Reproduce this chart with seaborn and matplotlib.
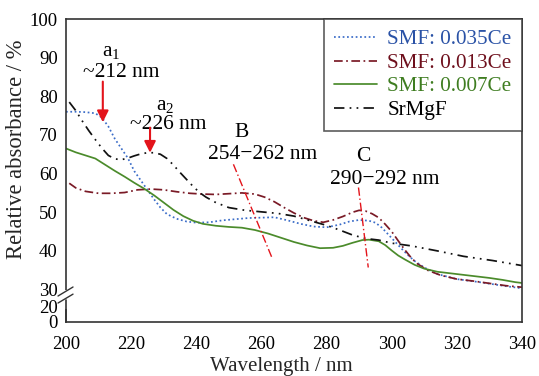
import numpy as np
import pandas as pd
import seaborn as sns
import matplotlib.pyplot as plt
from matplotlib.ticker import FixedLocator, MultipleLocator, FuncFormatter

# DATA
wl_035 = [200, 203, 206, 209, 211, 213, 215, 217, 219, 221, 223, 225, 227, 229, 231, 234, 237, 240,
          244, 248, 252, 256, 260, 264, 268, 272, 276, 280, 284, 287, 290, 293, 295, 297, 299, 301,
          303, 305, 307, 310, 314, 320, 327, 334, 340]
ab_035 = [76.0, 76.0, 75.9, 75.6, 74.5, 72.2, 69.0, 66.5, 64.0, 60.6, 58.2, 55.8, 53.4, 51.2, 49.5,
          48.3, 47.6, 47.3, 47.4, 47.9, 48.2, 48.5, 48.6, 48.7, 47.9, 47.0, 46.3, 46.1, 46.8, 47.6,
          48.0, 47.8, 47.3, 46.0, 44.2, 42.4, 40.6, 38.9, 37.4, 35.7, 34.0, 32.7, 31.9, 31.0, 30.3]

wl_013 = [201, 203, 206, 210, 214, 218, 222, 226, 230, 234, 238, 242, 246, 250, 254, 258, 261, 264,
          267, 270, 273, 276, 279, 282, 285, 288, 290, 292, 294, 296, 298, 300, 302, 304, 306, 308,
          311, 315, 320, 325, 330, 335, 340]
ab_013 = [57.5, 56.3, 55.4, 54.9, 54.9, 55.1, 55.8, 56.0, 55.8, 55.3, 54.9, 54.7, 54.6, 54.8, 55.0,
          54.7, 53.9, 52.7, 51.2, 49.8, 48.6, 47.8, 47.4, 48.0, 48.9, 50.0, 50.5, 50.3, 49.6, 48.6,
          46.9, 45.0, 42.6, 40.3, 38.2, 36.6, 35.0, 33.7, 32.7, 32.2, 31.6, 31.0, 30.6]

wl_007 = [200, 203, 206, 209, 212, 215, 218, 221, 224, 227, 230, 233, 236, 239, 242, 246, 250, 254,
          258, 262, 266, 270, 274, 278, 282, 285, 288, 291, 293, 296, 298, 300, 302, 304, 307, 310,
          314, 318, 322, 326, 330, 334, 338, 340]
ab_007 = [66.5, 65.5, 64.7, 63.9, 62.3, 60.7, 59.2, 57.6, 56.1, 54.4, 52.5, 50.6, 49.0, 47.8, 47.0,
          46.5, 46.2, 46.0, 45.4, 44.5, 43.4, 42.3, 41.4, 40.7, 40.8, 41.3, 42.1, 42.8, 42.9, 42.5,
          41.5, 40.1, 38.8, 37.8, 36.4, 35.4, 34.6, 34.2, 33.8, 33.4, 33.0, 32.5, 31.9, 31.7]

wl_host = [201, 203, 205, 207, 209, 211, 213, 215, 217, 219, 221, 223, 225, 227, 229, 231, 233, 235,
           237, 239, 241, 243, 246, 250, 255, 260, 265, 270, 275, 280, 284, 288, 292, 296, 300, 306,
           314, 322, 331, 340]
ab_host = [78.5, 76.3, 73.6, 71.1, 68.8, 66.6, 64.7, 63.8, 63.6, 64.0, 64.6, 65.1, 65.4, 65.4, 65.0,
           63.9, 62.2, 60.3, 58.5, 56.7, 55.1, 53.9, 52.5, 51.2, 50.5, 50.1, 49.7, 49.0, 47.8, 46.6,
           45.4, 44.1, 43.2, 42.8, 42.0, 41.3, 40.0, 38.6, 37.5, 36.2]

labels = ["SMF: 0.035Ce", "SMF: 0.013Ce", "SMF: 0.007Ce", "SrMgF"]
line_colors = ["#3a6cc8", "#7a1a26", "#4b8b2b", "#111111"]
text_colors = ["#2a52a6", "#6e0f1c", "#3f7d21", "#000000"]
line_styles = [(0, (1, 1.5)), (0, (5, 2, 1, 2)), "-", (0, (6, 3, 1, 3, 1, 3))]

# annotation guides (B and C ranges)
guide_b = ([251.4, 263.2], [62.4, 38.3])
guide_c = ([289.8, 292.8], [56.4, 35.7])

RED = "#e3141b"
FONT = "Liberation Serif"

sns.set_theme(style="white")
plt.rcParams["font.family"] = [FONT, "DejaVu Serif"]
plt.rcParams["mathtext.fontset"] = "custom"
plt.rcParams["mathtext.rm"] = FONT
plt.rcParams["mathtext.it"] = FONT + ":italic"

# broken y axis: 0..27 compressed
BRK, K = 27.0, 0.2


def fwd(y):
    y = np.asarray(y, dtype=float)
    return np.where(y < BRK, y * K, BRK * K + (y - BRK))


def inv(z):
    z = np.asarray(z, dtype=float)
    return np.where(z < BRK * K, z / K, z - BRK * K + BRK)


fig = plt.figure(figsize=(5.39, 3.76), dpi=100)
ax = fig.add_axes([66 / 539, 1 - 322 / 376, 456 / 539, 303 / 376])

series = [(wl_035, ab_035), (wl_013, ab_013), (wl_007, ab_007), (wl_host, ab_host)]
for (wl, ab), lab, col, ls in zip(series, labels, line_colors, line_styles):
    df = pd.DataFrame({"wl": wl, "ab": ab})
    sns.lineplot(data=df, x="wl", y="ab", ax=ax, color=col, linestyle=ls, lw=1.25,
                 label=lab, estimator=None, sort=False)

ax.set_yscale("function", functions=(fwd, inv))
ax.set_xlim(200, 340)
ax.set_ylim(0, 100)

ax.yaxis.set_major_locator(FixedLocator([0, 20, 30, 40, 50, 60, 70, 80, 90, 100]))
ax.yaxis.set_minor_locator(FixedLocator([10, 35, 45, 55, 65, 75, 85, 95]))
ax.yaxis.set_major_formatter(FuncFormatter(lambda v, p: f"{v:.0f}"))
ax.xaxis.set_major_locator(MultipleLocator(10))
ax.xaxis.set_minor_locator(MultipleLocator(2))
ax.xaxis.set_major_formatter(FuncFormatter(lambda v, p: f"{v:.0f}" if round(v) % 20 == 0 else ""))

ax.tick_params(axis="both", which="both", direction="in", top=False, right=False,
               labelsize=13.5, colors="#333333", labelcolor="black")
ax.tick_params(axis="y", which="major", length=6, width=1, pad=6)
ax.tick_params(axis="y", which="minor", length=3.5, width=1)
ax.tick_params(axis="x", which="major", length=5, width=1, pad=10)
ax.tick_params(axis="x", which="minor", length=3, width=0.8)

for s in ax.spines.values():
    s.set_color("#333333")
    s.set_linewidth(1.2)

ax.set_xlabel("Wavelength / nm", fontsize=15)
ax.xaxis.set_label_coords(0.4726, -0.117)
ax.set_ylabel("Relative absorbance / %", fontsize=16.3)
ax.yaxis.set_label_coords(-0.085, 0.571)

# axis break mark
ax.plot([0, 0], [0.05, 0.1], color="white", lw=3, transform=ax.transAxes,
        clip_on=False, zorder=6)
for y0, y1 in [(0.0858, 0.1155), (0.0626, 0.092)]:
    ax.plot([-0.0175, 0.0154], [y0, y1], color="#333333", lw=1, transform=ax.transAxes,
            clip_on=False, zorder=7)
ax.plot([0, 0], [0.0, 0.072], color="#333333", lw=1.2, transform=ax.transAxes,
        clip_on=False, zorder=7)

# annotations
txt = dict(fontsize=15.5, ha="center", va="center", color="black")
ax.text(213.8, 91.5, "a$_1$", **txt)
ax.text(216.9, 86.1, "~212 nm", **txt)
ax.text(230.3, 77.6, "a$_2$", **txt)
ax.text(231.3, 72.6, "~226 nm", **txt)
ax.text(254.0, 70.6, "B", **txt)
ax.text(260.5, 65.0, "254\u2212262 nm", **txt)
ax.text(291.2, 64.4, "C", **txt)
ax.text(297.9, 58.5, "290\u2212292 nm", **txt)

arrow = dict(arrowstyle="-|>", color=RED, lw=1.5, mutation_scale=17, shrinkA=0, shrinkB=0)
ax.annotate("", xy=(211.3, 73.3), xytext=(211.3, 83.8), arrowprops=arrow)
ax.annotate("", xy=(225.8, 65.4), xytext=(225.8, 71.9), arrowprops=arrow)
ax.plot(*guide_b, color=RED, lw=1, linestyle=(0, (6, 2, 1, 2)))
ax.plot(*guide_c, color=RED, lw=1, linestyle=(0, (6, 2, 1, 2)))

leg = ax.legend(loc="upper right", borderaxespad=0, frameon=True, fancybox=False,
                fontsize=15.2, handlelength=2.0, handletextpad=0.5, labelspacing=0.18,
                borderpad=0.5)
leg.get_frame().set_edgecolor("#333333")
leg.get_frame().set_linewidth(1.2)
for t, c in zip(leg.get_texts(), text_colors):
    t.set_color(c)

fig.savefig("out.png", dpi=100)
